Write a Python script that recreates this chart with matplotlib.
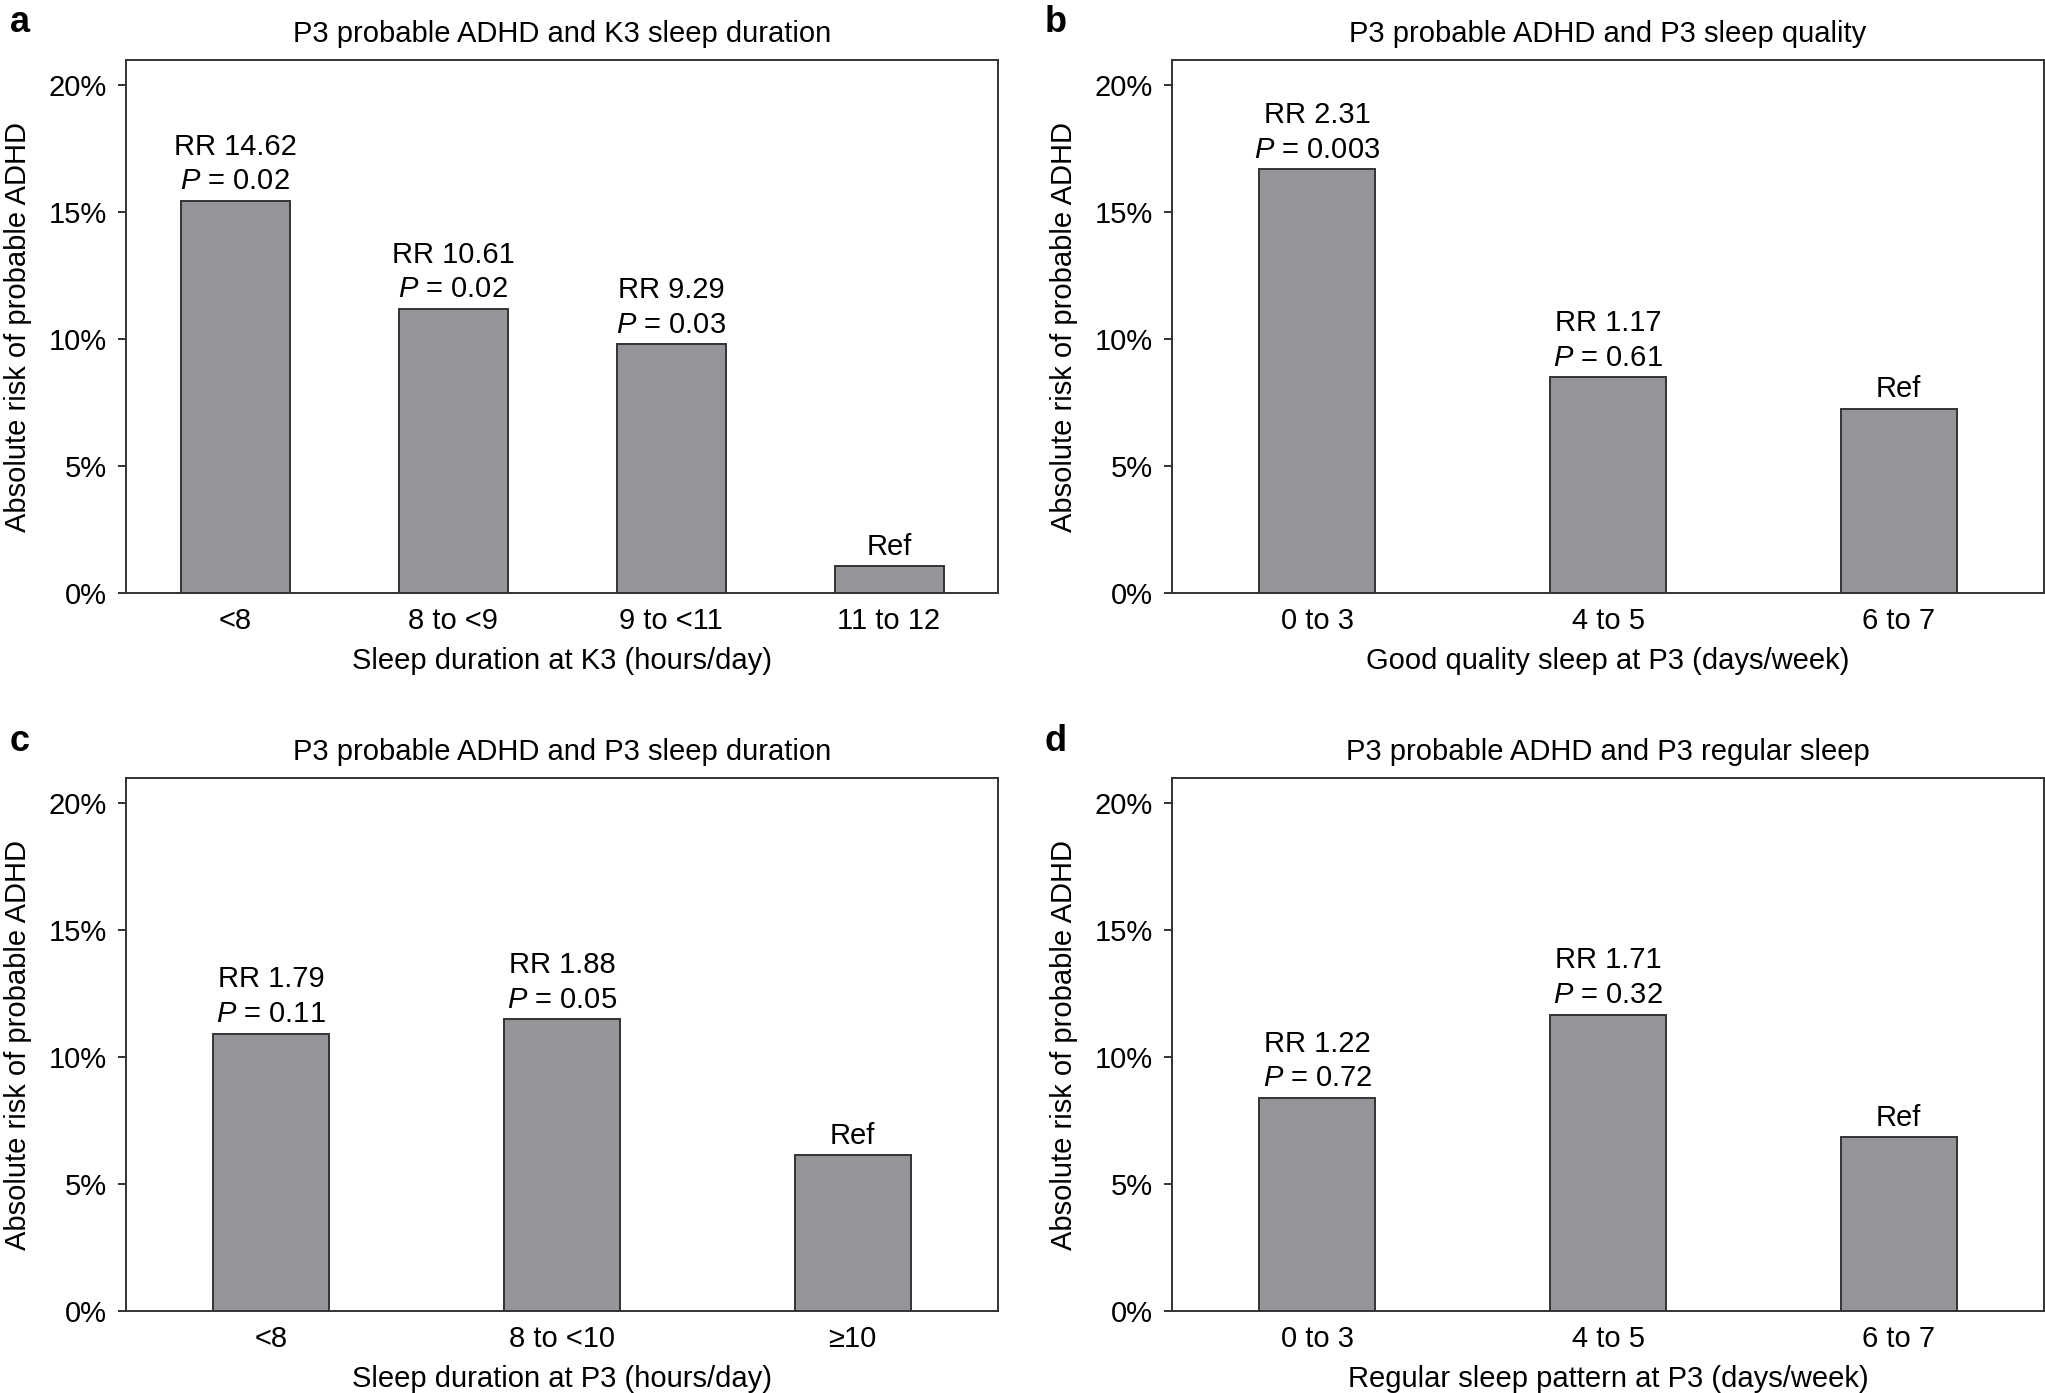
import matplotlib
matplotlib.use("Agg")
import matplotlib.pyplot as plt
from matplotlib.ticker import FuncFormatter

plt.rcParams["font.family"] = ["Liberation Sans", "DejaVu Sans"]
plt.rcParams["mathtext.fontset"] = "custom"
plt.rcParams["mathtext.rm"] = "Liberation Sans"
plt.rcParams["mathtext.it"] = "Liberation Sans:italic"

# ---------- data ----------
a_cats = ["<8", "8 to <9", "9 to <11", "11 to 12"]
a_risk = [15.45, 11.2, 9.8, 1.05]
a_rr = ["14.62", "10.61", "9.29", None]
a_p = ["0.02", "0.02", "0.03", None]

b_cats = ["0 to 3", "4 to 5", "6 to 7"]
b_risk = [16.7, 8.5, 7.25]
b_rr = ["2.31", "1.17", None]
b_p = ["0.003", "0.61", None]

c_cats = ["<8", "8 to <10", "≥10"]
c_risk = [10.93, 11.5, 6.13]
c_rr = ["1.79", "1.88", None]
c_p = ["0.11", "0.05", None]

d_cats = ["0 to 3", "4 to 5", "6 to 7"]
d_risk = [8.39, 11.68, 6.85]
d_rr = ["1.22", "1.71", None]
d_p = ["0.72", "0.32", None]

panels = [
    ("a", "P3 probable ADHD and K3 sleep duration", "Sleep duration at K3 (hours/day)",
     a_cats, a_risk, a_rr, a_p, 0.5),
    ("b", "P3 probable ADHD and P3 sleep quality", "Good quality sleep at P3 (days/week)",
     b_cats, b_risk, b_rr, b_p, 0.4),
    ("c", "P3 probable ADHD and P3 sleep duration", "Sleep duration at P3 (hours/day)",
     c_cats, c_risk, c_rr, c_p, 0.4),
    ("d", "P3 probable ADHD and P3 regular sleep", "Regular sleep pattern at P3 (days/week)",
     d_cats, d_risk, d_rr, d_p, 0.4),
]

W, H = 2045, 1393
fig = plt.figure(figsize=(W / 100, H / 100), dpi=100)

# axes boxes in pixels: left, top
boxes = [(126, 60), (1172, 60), (126, 778), (1172, 778)]
AX_W, AX_H = 872, 533
letter_pos = [(10, 23), (1045, 23), (10, 741), (1045, 741)]

BAR = "#939598"
EDGE = "#333333"
FS = 21

for (letter, title, xlabel, cats, risk, rr, pv, width), (lx, ty), (px, py) in zip(panels, boxes, letter_pos):
    ax = fig.add_axes([lx / W, 1 - (ty + AX_H) / H, AX_W / W, AX_H / H])
    x = list(range(len(cats)))
    ax.bar(x, risk, width=width, color=BAR, edgecolor=EDGE, linewidth=1.4)
    ax.set_xlim(-0.5, len(cats) - 0.5)
    ax.set_ylim(0, 21)
    ax.set_yticks([0, 5, 10, 15, 20])
    ax.yaxis.set_major_formatter(FuncFormatter(lambda v, _: f"{v:.0f}%"))
    ax.set_xticks(x)
    ax.set_xticklabels(cats)
    ax.tick_params(axis="y", length=6, width=1.4, pad=8, labelsize=FS, color=EDGE)
    ax.tick_params(axis="x", length=0, pad=10, labelsize=FS)
    for s in ax.spines.values():
        s.set_color(EDGE)
        s.set_linewidth(1.4)
    ax.set_title(title, fontsize=FS, pad=13)
    ax.set_xlabel(xlabel, fontsize=FS)
    ax.set_ylabel("Absolute risk of probable ADHD", fontsize=FS)
    ax.xaxis.set_label_coords(0.5, -0.102)
    ax.yaxis.set_label_coords(-0.108, 0.5)

    for xi, h, r, p in zip(x, risk, rr, pv):
        if r is None:
            label = "Ref"
        else:
            label = f"RR {r}\n$P$ = {p}"
        ax.annotate(label, xy=(xi, h), xytext=(0, 4), textcoords="offset points",
                    ha="center", va="bottom", fontsize=FS, linespacing=1.3)

    fig.text(px / W, 1 - py / H, letter, fontsize=26, fontweight="bold",
             ha="left", va="center")

fig.savefig("out.png", dpi=100)
